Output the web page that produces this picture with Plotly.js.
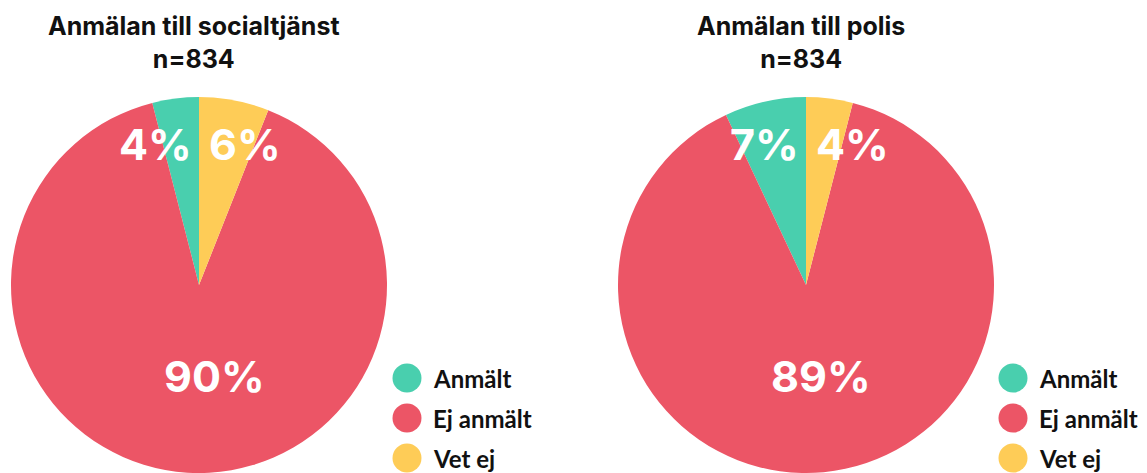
<!DOCTYPE html>
<html><head><meta charset="utf-8">
<script src="https://cdn.plot.ly/plotly-3.0.1.min.js"></script>
<style>html,body{margin:0;padding:0;background:#fff}#chart{width:1147px;height:473px}</style>
</head><body><div id="chart"></div>
<script>
// ---- data ----
const categories = ['Anmält', 'Ej anmält', 'Vet ej'];
const socialValues = [4, 90, 6];
const polisValues = [7, 89, 4];
const chartTitles = ['Anmälan till socialtjänst', 'Anmälan till polis'];
const sampleSizes = [834, 834];
const sliceColors = ['#49cfae', '#ec5566', '#fecc57'];

// ---- layout helpers ----
const W = 1147, H = 473;
const R = 188, CY = 285;
const panels = [
  {values: socialValues, cx: 199, legendX: 407},
  {values: polisValues, cx: 806, legendX: 1013}
];
const px = x => x / W;
const py = y => (H - y) / H;

const data = [];
const annotations = [];
const shapes = [];

panels.forEach((p, k) => {
  const total = p.values.reduce((a, b) => a + b, 0);
  data.push({
    type: 'pie',
    labels: categories,
    values: p.values,
    sort: false,
    direction: 'counterclockwise',
    // first slice starts at 12 o'clock and runs counterclockwise
    rotation: -360 * p.values[0] / total,
    textinfo: 'none',
    hoverinfo: 'label+percent',
    showlegend: false,
    marker: {colors: sliceColors, line: {width: 0}},
    domain: {x: [px(p.cx - R), px(p.cx + R)], y: [0, py(CY - R)]}
  });

  // title
  annotations.push({
    xref: 'paper', yref: 'paper', x: px(p.cx - 5), y: py(42),
    xanchor: 'center', yanchor: 'middle', showarrow: false,
    text: '<b>' + chartTitles[k] + '</b><br><b>n=' + sampleSizes[k] + '</b>',
    font: {family: 'Inter, Roboto, sans-serif', size: 25, color: '#111'}
  });

  // percentage labels
  const pct = p.values.map(v => Math.round(v / total * 100) + '%');
  const labelFont = {family: 'Inter, Roboto, sans-serif', size: 43, color: '#ffffff'};
  annotations.push({xref: 'paper', yref: 'paper', x: px(p.cx - 5), y: py(CY - 0.75 * R),
    xanchor: 'right', yanchor: 'middle', showarrow: false, text: '<b>' + pct[0] + '</b>', font: labelFont});
  annotations.push({xref: 'paper', yref: 'paper', x: px(p.cx + 8), y: py(CY - 0.75 * R),
    xanchor: 'left', yanchor: 'middle', showarrow: false, text: '<b>' + pct[2] + '</b>', font: labelFont});
  annotations.push({xref: 'paper', yref: 'paper', x: px(p.cx + 15), y: py(CY + 0.485 * R),
    xanchor: 'center', yanchor: 'middle', showarrow: false, text: '<b>' + pct[1] + '</b>', font: labelFont});

  // legend
  categories.forEach((c, i) => {
    const yc = 378 + i * 40;
    shapes.push({
      type: 'circle', xref: 'paper', yref: 'paper',
      xsizemode: 'pixel', ysizemode: 'pixel',
      xanchor: px(p.legendX), yanchor: py(yc),
      x0: -14.5, x1: 14.5, y0: -14.5, y1: 14.5,
      fillcolor: sliceColors[i], line: {width: 0}
    });
    annotations.push({
      xref: 'paper', yref: 'paper', x: px(p.legendX + 24), y: py(yc),
      xanchor: 'left', yanchor: 'middle', showarrow: false, text: '<b>' + c + '</b>',
      font: {family: 'Lato, sans-serif', size: 24, color: '#111'}
    });
  });
});

const layout = {
  width: W, height: H,
  margin: {l: 0, r: 0, t: 0, b: 0},
  paper_bgcolor: '#ffffff',
  showlegend: false,
  annotations: annotations,
  shapes: shapes
};

Plotly.newPlot('chart', data, layout, {displayModeBar: false, staticPlot: true});
</script>
</body></html>
